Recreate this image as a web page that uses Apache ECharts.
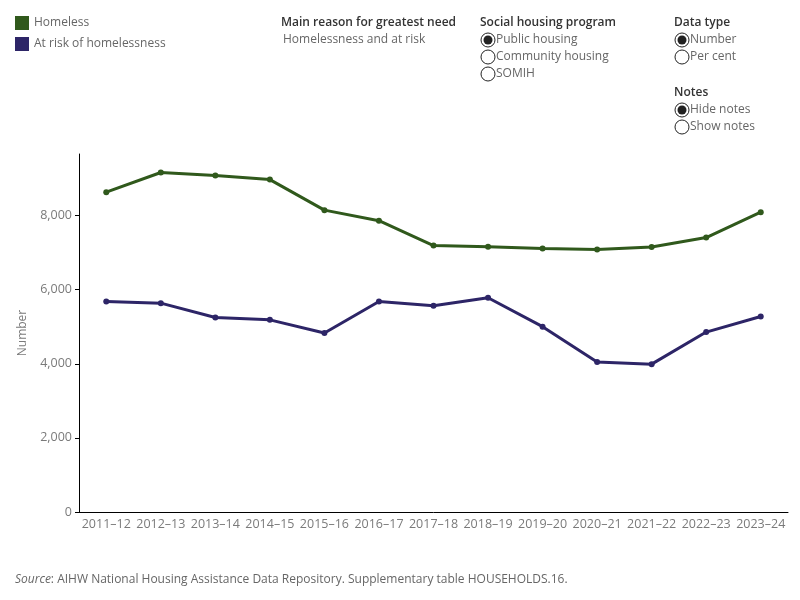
<!DOCTYPE html>
<html>
<head>
<meta charset="utf-8">
<script src="https://cdn.jsdelivr.net/npm/echarts@6/dist/echarts.min.js"></script>
<style>
  body { margin: 0; background: #fff; }
  #chart { width: 800px; height: 600px; }
</style>
</head>
<body>
<div id="chart"></div>
<script>
// financial years
let years = ["2011–12", "2012–13", "2013–14", "2014–15", "2015–16", "2016–17", "2017–18",
             "2018–19", "2019–20", "2020–21", "2021–22", "2022–23", "2023–24"];

// households
let homeless = [8630, 9160, 9080, 8970, 8145, 7860, 7190, 7160, 7110, 7080, 7150, 7405, 8090];
let at_risk = [5680, 5635, 5250, 5185, 4830, 5680, 5565, 5780, 5000, 4045, 3990, 4855, 5275];

let y_ticks = [0, 2000, 4000, 6000, 8000];

let green = "#30591c";
let purple = "#2d2567";
let grey = "#7a7a7a";

// radio button helper, returns graphic elements
function radio(x, y, label, checked) {
    let els = [{
        type: "circle", shape: { cx: x, cy: y, r: 7 },
        style: { fill: "#fff", stroke: "#222", lineWidth: 1 }
    }];
    if (checked) {
        els.push({ type: "circle", shape: { cx: x, cy: y, r: 4.5 }, style: { fill: "#222" } });
    }
    els.push({
        type: "text", x: x + 8, y: y,
        style: { text: label, fill: "#666", font: "12px 'Open Sans'", verticalAlign: "middle" }
    });
    return els;
}

function heading(x, y, label) {
    return {
        type: "text", x: x, y: y,
        style: { text: label, fill: "#333", font: "600 12px 'Open Sans'", verticalAlign: "middle" }
    };
}

let controls = [].concat(
    [heading(281, 23, "Main reason for greatest need"),
     { type: "text", x: 283, y: 40,
       style: { text: "Homelessness and at risk", fill: "#666", font: "12px 'Open Sans'", verticalAlign: "middle" } },
     heading(480, 23, "Social housing program")],
    radio(488, 40, "Public housing", true),
    radio(488, 57, "Community housing", false),
    radio(488, 74, "SOMIH", false),
    [heading(674, 23, "Data type")],
    radio(682, 40, "Number", true),
    radio(682, 57, "Per cent", false),
    [heading(674, 93, "Notes")],
    radio(682, 110, "Hide notes", true),
    radio(682, 127, "Show notes", false),
    [{
        type: "text", x: 15, y: 580,
        style: {
            text: "{i|Source}: AIHW National Housing Assistance Data Repository. Supplementary table HOUSEHOLDS.16.",
            fill: "#666", font: "12px 'Open Sans'", verticalAlign: "middle",
            rich: { i: { fontStyle: "italic", fill: "#666", fontSize: 12, fontFamily: "Open Sans" } }
        }
    }]
);

let chart = echarts.init(document.getElementById("chart"));

chart.setOption({
    animation: false,
    textStyle: { fontFamily: "Open Sans" },
    legend: {
        orient: "vertical", left: 15, top: 16, padding: 0,
        icon: "rect", itemWidth: 14, itemHeight: 14, itemGap: 7,
        textStyle: { color: "#666", fontSize: 12 },
        selectedMode: false,
        data: ["Homeless", "At risk of homelessness"]
    },
    grid: { left: 79, right: 12, top: 154, bottom: 88 },
    xAxis: {
        type: "category",
        data: years,
        boundaryGap: true,
        axisLine: { lineStyle: { color: "#000", width: 1 } },
        axisTick: { length: 4, lineStyle: { color: "#000" } },
        axisLabel: { color: grey, fontSize: 12.5, margin: 6, interval: 0 }
    },
    yAxis: {
        type: "value",
        min: 0, max: 9660,
        name: "Number",
        nameLocation: "middle",
        nameGap: 50,
        nameTextStyle: { color: grey, fontSize: 12 },
        splitLine: { show: false },
        axisLine: { show: true, lineStyle: { color: "#000", width: 1 } },
        axisTick: { show: true, length: 4, lineStyle: { color: "#000" }, customValues: y_ticks },
        axisLabel: {
            color: grey, fontSize: 12.5, margin: 7, customValues: y_ticks,
            formatter: v => v.toLocaleString("en-US")
        }
    },
    series: [
        {
            name: "Homeless", type: "line", data: homeless,
            color: green, symbol: "circle", symbolSize: 6,
            lineStyle: { width: 3, color: green }, itemStyle: { color: green }
        },
        {
            name: "At risk of homelessness", type: "line", data: at_risk,
            color: purple, symbol: "circle", symbolSize: 6,
            lineStyle: { width: 3, color: purple }, itemStyle: { color: purple }
        }
    ],
    graphic: controls
});
</script>
</body>
</html>
